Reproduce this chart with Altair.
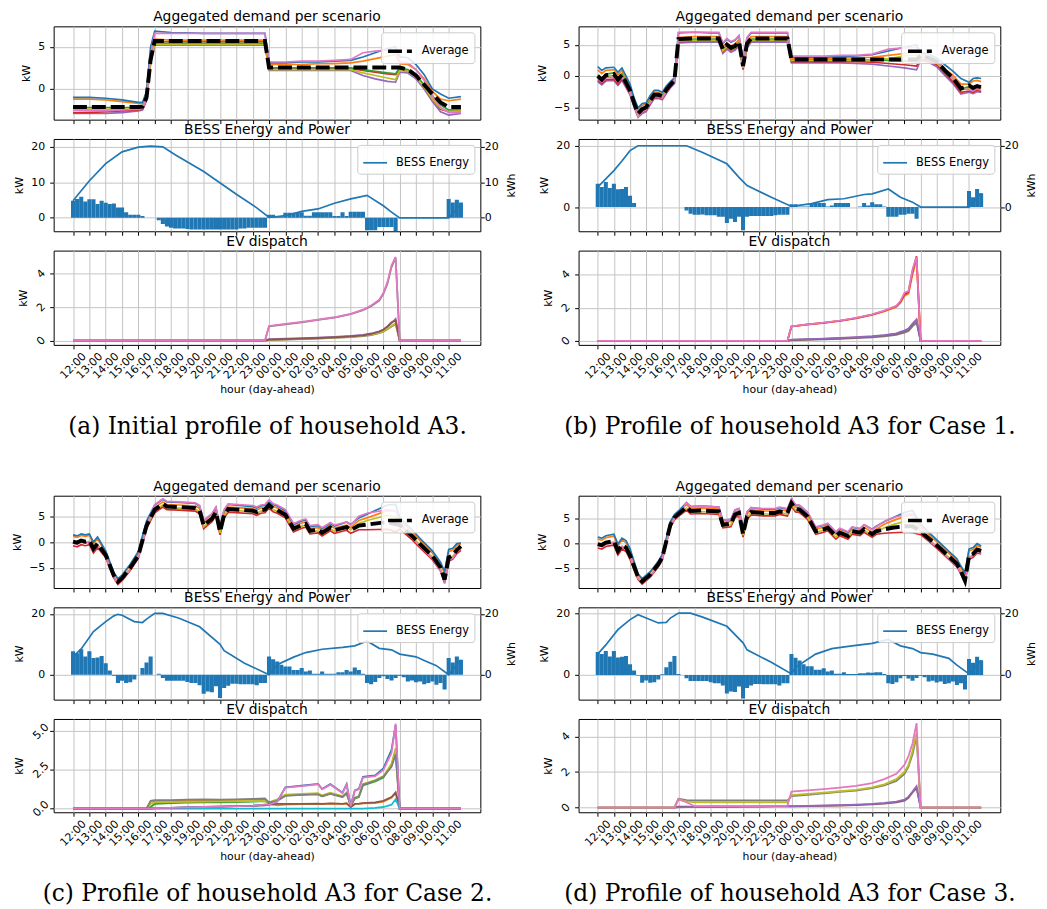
import json
import altair as alt
import pandas as pd

FONT = "DejaVu Sans"
BLUE = "#1f77b4"; ORANGE = "#ff7f0e"; GREEN = "#2ca02c"; RED = "#d62728"; PURPLE = "#9467bd"
BROWN = "#8c564b"; PINK = "#e377c2"; GRAY = "#7f7f7f"; OLIVE = "#bcbd22"; CYAN = "#17becf"

HOUR_LABELS = ["12:00", "13:00", "14:00", "15:00", "16:00", "17:00", "18:00", "19:00", "20:00", "21:00",
               "22:00", "23:00", "00:00", "01:00", "02:00", "03:00", "04:00", "05:00", "06:00", "07:00",
               "08:00", "09:00", "10:00", "11:00"]
HOUR_TICKS = [0, 4, 8, 12, 16, 20, 24, 28, 32, 36, 40, 44, 48, 52, 56, 60, 64, 68, 72, 76, 80, 84, 88, 92]
QUARTERS = list(range(96))

CAPTIONS = ["(a) Initial profile of household A3.", "(b) Profile of household A3 for Case 1.",
            "(c) Profile of household A3 for Case 2.", "(d) Profile of household A3 for Case 3."]

# ---------------- (a) aggregated demand ----------------
A_T = [0, 4, 8, 12, 16, 17, 18, 19, 20, 24, 28, 32, 36, 40, 44, 47, 48, 52, 56, 60, 64, 68, 71, 74, 77, 79, 80,
       82, 84, 86, 88, 90, 92, 95]
A_AVG = [-2.15, -2.15, -2.15, -2.15, -2.15, -2.1, -1.0, 3.5, 5.7, 5.7, 5.7, 5.7, 5.7, 5.7, 5.7, 5.7,
         2.55, 2.55, 2.55, 2.55, 2.55, 2.55, 2.55, 2.55, 2.55, 2.55, 2.55, 2.3, 1.6, 0.5, -0.6, -1.6, -2.15, -2.15]
A_PURPLE = [-2.9, -2.9, -2.9, -2.8, -2.6, -2.5, -1.4, 3.0, 5.2, 5.2, 5.2, 5.2, 5.2, 5.2, 5.2, 5.2,
            2.2, 2.2, 2.2, 2.2, 2.2, 2.2, 1.6, 1.2, 0.9, 0.8, 2.0, 1.9, 1.2, 0.0, -1.5, -2.7, -3.1, -2.9]
A_RED = [-2.8, -2.8, -2.7, -2.6, -2.5, -2.4, -1.3, 3.2, 5.4, 5.4, 5.4, 5.4, 5.4, 5.4, 5.4, 5.4,
         2.4, 2.4, 2.4, 2.4, 2.4, 2.4, 2.2, 2.0, 1.8, 1.7, 2.3, 2.1, 1.5, 0.3, -1.2, -2.4, -2.7, -2.6]
A_GREEN = [-2.2, -2.2, -2.2, -2.2, -2.2, -2.1, -1.0, 3.5, 5.6, 5.6, 5.6, 5.6, 5.6, 5.6, 5.6, 5.6,
           2.5, 2.5, 2.5, 2.5, 2.5, 2.5, 2.3, 2.1, 1.9, 1.8, 2.5, 2.3, 1.6, 0.5, -0.8, -1.9, -2.5, -2.4]
A_OLIVE = [-2.4, -2.4, -2.4, -2.4, -2.4, -2.3, -1.2, 3.3, 5.3, 5.3, 5.3, 5.3, 5.3, 5.3, 5.3, 5.3,
           2.3, 2.3, 2.3, 2.3, 2.3, 2.3, 1.9, 1.6, 1.3, 1.1, 2.2, 2.1, 1.4, 0.2, -1.2, -2.3, -2.7, -2.6]
A_ORANGE = [-1.2, -1.2, -1.3, -1.5, -1.7, -1.7, -0.6, 4.5, 5.9, 5.8, 5.8, 5.8, 5.8, 5.8, 5.8, 5.8,
            2.9, 2.9, 2.9, 3.0, 3.0, 3.1, 3.3, 3.6, 3.9, 4.1, 3.0, 2.9, 2.3, 1.2, -0.3, -1.2, -1.4, -1.2]
A_BLUE = [-1.0, -1.0, -1.1, -1.3, -1.6, -1.6, -0.3, 5.0, 6.85, 6.7, 6.65, 6.6, 6.6, 6.6, 6.6, 6.6,
          3.1, 3.1, 3.2, 3.2, 3.3, 3.4, 3.8, 4.3, 4.8, 5.0, 3.8, 3.7, 2.9, 1.7, 0.0, -0.6, -1.1, -0.9]
A_PINK = [-2.5, -2.6, -2.6, -2.5, -2.4, -2.3, -1.1, 4.0, 6.6, 6.6, 6.6, 6.6, 6.6, 6.6, 6.6, 6.6,
          3.2, 3.2, 3.3, 3.3, 3.4, 3.5, 4.3, 4.5, 4.6, 4.7, 3.2, 3.1, 2.3, 1.0, -0.8, -2.2, -2.8, -2.8]

# ---------------- (b) aggregated demand ----------------
B_T = [0, 1, 2, 4, 5, 6, 8, 9, 10, 11, 12, 13, 14, 15, 16, 17, 18, 19, 20, 24, 28, 30, 31, 32, 33, 34, 35, 36,
       37, 38, 42, 47, 48, 52, 56, 60, 64, 68, 72, 76, 79, 80, 82, 84, 86, 88, 90, 92, 93, 94, 95]
B_AVG = [0.0, -0.6, 0.1, 0.3, -0.6, 0.2, -2.3, -4.3, -6.0, -5.3, -5.0, -3.9, -3.0, -3.0, -3.2, -2.2, -1.4, -0.7,
         5.9, 6.0, 6.0, 6.0, 4.3, 5.0, 4.5, 4.8, 5.5, 1.6, 5.2, 6.0, 6.0, 6.0, 2.65, 2.65, 2.65, 2.65, 2.65,
         2.65, 2.65, 2.65, 2.65, 3.2, 2.9, 2.3, 0.9, -0.3, -2.0, -1.5, -1.9, -1.6, -1.8]
B_PURPLE = [-0.9, -1.4, -0.8, -0.7, -1.5, -0.7, -3.0, -5.0, -6.6, -6.0, -5.7, -4.6, -3.6, -3.6, -3.8, -2.8, -1.9,
            -1.2, 5.3, 5.4, 5.4, 5.4, 3.6, 4.3, 3.8, 4.1, 4.8, 1.0, 4.5, 5.4, 5.4, 5.4, 2.1, 2.1, 2.1, 2.1, 2.0,
            1.9, 1.6, 1.3, 1.0, 2.5, 2.2, 1.5, 0.1, -1.2, -2.9, -2.6, -2.8, -2.5, -2.6]
B_RED = [-0.7, -1.2, -0.6, -0.5, -1.3, -0.5, -2.8, -4.8, -6.4, -5.8, -5.5, -4.4, -3.4, -3.4, -3.6, -2.6, -1.7,
         -1.0, 5.5, 5.6, 5.6, 5.6, 3.9, 4.6, 4.1, 4.4, 5.1, 1.2, 4.8, 5.6, 5.6, 5.6, 2.3, 2.3, 2.3, 2.3, 2.3,
         2.2, 2.0, 1.8, 1.6, 2.7, 2.4, 1.8, 0.4, -0.9, -2.6, -2.4, -2.6, -2.2, -2.5]
B_GREEN = [0.2, -0.4, 0.3, 0.5, -0.4, 0.4, -2.2, -4.2, -5.9, -5.2, -4.9, -3.8, -2.9, -2.9, -3.1, -2.1, -1.3,
           -0.6, 5.8, 5.9, 5.9, 5.9, 4.2, 4.9, 4.4, 4.7, 5.4, 1.5, 5.1, 5.9, 5.9, 5.9, 2.6, 2.6, 2.6, 2.6, 2.6,
           2.6, 2.5, 2.4, 2.3, 3.1, 2.8, 2.2, 0.8, -0.4, -2.1, -1.7, -1.9, -1.6, -1.9]
B_OLIVE = [-0.2, -0.8, -0.1, 0.1, -0.8, 0.0, -2.5, -4.5, -6.2, -5.5, -5.2, -4.1, -3.2, -3.2, -3.4, -2.4, -1.6,
           -0.9, 5.6, 5.7, 5.7, 5.7, 4.0, 4.7, 4.2, 4.5, 5.2, 1.3, 4.9, 5.7, 5.7, 5.7, 2.5, 2.5, 2.5, 2.5, 2.5,
           2.6, 2.8, 3.2, 3.4, 3.0, 2.7, 2.1, 0.7, -0.5, -2.2, -2.0, -2.2, -1.9, -2.1]
B_ORANGE = [1.0, 0.4, 0.9, 1.0, 0.2, 0.9, -1.6, -3.8, -5.4, -4.7, -4.5, -3.4, -2.6, -2.6, -2.8, -1.9, -1.1, -0.5,
            6.2, 6.3, 6.3, 6.3, 4.6, 5.3, 4.8, 5.1, 5.8, 1.9, 5.5, 6.3, 6.3, 6.3, 2.8, 2.8, 2.8, 2.9, 2.9, 3.0,
            3.3, 3.6, 3.8, 3.4, 3.1, 2.5, 1.2, 0.1, -1.3, -1.3, -0.8, -0.7, -0.9]
B_BLUE = [1.5, 0.9, 1.3, 1.4, 0.6, 1.3, -1.3, -3.5, -5.1, -4.4, -4.3, -3.1, -2.3, -2.3, -2.6, -1.6, -0.9, -0.3,
          6.9, 7.0, 6.9, 6.9, 5.2, 5.9, 5.4, 5.7, 6.4, 2.5, 6.1, 6.9, 6.9, 6.9, 3.0, 3.0, 3.0, 3.1, 3.2, 3.4,
          4.0, 4.6, 5.0, 3.7, 3.5, 2.9, 1.8, 0.8, -0.4, -1.0, -0.4, -0.3, -0.4]
B_PINK = [-0.4, -1.0, -0.3, -0.2, -1.0, -0.2, -2.7, -4.7, -6.5, -5.7, -5.4, -4.3, -3.3, -3.3, -3.5, -2.5, -1.6,
          -0.9, 7.0, 7.0, 7.0, 7.0, 5.3, 6.0, 5.5, 5.8, 6.5, 2.6, 6.2, 7.0, 7.0, 7.0, 3.2, 3.2, 3.2, 3.3, 3.3,
          3.5, 4.3, 4.5, 4.6, 3.3, 3.0, 2.4, 1.0, -0.3, -2.0, -2.2, -2.4, -2.0, -2.3]

# ---------------- (c) aggregated demand ----------------
C_T = [0, 1, 2, 3, 4, 5, 6, 8, 10, 11, 12, 14, 16, 17, 18, 20, 22, 23, 26, 30, 31, 32, 33, 34, 35, 36, 37, 38,
       44, 45, 46, 47, 48, 49, 50, 52, 54, 56, 57, 58, 60, 61, 63, 64, 66, 67, 68, 70, 72, 77, 79, 80, 83, 85,
       88, 90, 91, 92, 93, 94, 95]
C_AVG = [0.1, -0.1, 0.3, 0.1, 0.3, -1.3, -0.3, -2.5, -6.5, -7.7, -7.0, -5.0, -2.6, 0.3, 3.2, 6.3, 7.4, 6.9, 6.8,
         6.6, 6.1, 3.2, 3.9, 4.5, 5.8, 2.0, 5.3, 6.4, 6.1, 5.8, 6.2, 6.3, 7.2, 6.5, 6.2, 5.3, 2.6, 3.3, 3.5, 2.2,
         2.4, 1.8, 2.8, 2.3, 2.7, 2.9, 2.3, 3.2, 3.4, 3.9, 3.5, 3.3, 1.2, -0.4, -2.7, -4.9, -7.3, -3.0, -2.6,
         -1.5, -0.8]
C_RED = [-0.7, -0.9, -0.5, -0.7, -0.5, -2.1, -1.1, -3.0, -7.0, -8.2, -7.5, -5.5, -3.1, -0.3, 2.6, 5.7, 6.8, 6.3,
         6.2, 6.0, 5.5, 2.6, 3.3, 3.9, 5.2, 1.4, 4.7, 5.8, 5.5, 5.2, 5.6, 5.7, 6.6, 5.9, 5.6, 4.7, 2.0, 2.7, 2.9,
         1.6, 1.8, 1.2, 2.2, 1.7, 2.1, 2.3, 1.7, 2.4, 2.4, 2.5, 2.0, 2.5, 0.5, -1.1, -3.4, -5.6, -8.0, -3.7, -3.3,
         -2.2, -1.6]
C_OLIVE = [-0.1, -0.3, 0.1, -0.1, 0.1, -1.5, -0.5, -2.7, -6.7, -7.9, -7.2, -5.2, -2.8, 0.1, 3.0, 6.1, 7.2, 6.7,
           6.6, 6.4, 5.9, 3.0, 3.7, 4.3, 5.6, 1.8, 5.1, 6.2, 5.9, 5.6, 6.0, 6.1, 7.0, 6.3, 6.0, 5.1, 2.4, 3.1,
           3.3, 2.0, 2.2, 1.6, 2.6, 2.1, 2.6, 2.9, 2.4, 3.6, 4.2, 5.2, 4.9, 3.3, 1.0, -0.6, -2.9, -5.1, -7.5,
           -3.2, -2.8, -1.7, -1.0]
C_ORANGE = [1.1, 0.9, 1.3, 1.1, 1.3, -0.3, 0.7, -2.1, -6.1, -7.3, -6.6, -4.6, -2.2, 0.8, 3.7, 6.7, 7.8, 7.3,
            7.2, 7.0, 6.5, 3.6, 4.3, 4.9, 6.2, 2.4, 5.7, 6.8, 6.5, 6.2, 6.6, 6.7, 7.6, 6.9, 6.6, 5.7, 3.0, 3.7,
            3.9, 2.6, 2.8, 2.2, 3.2, 2.7, 3.1, 3.3, 2.8, 4.2, 4.7, 6.1, 6.0, 4.3, 2.0, 0.3, -2.1, -4.3, -6.0,
            -1.8, -1.6, -0.6, -0.3]
C_BLUE = [1.4, 1.2, 1.6, 1.4, 1.6, 0.0, 1.0, -1.7, -5.9, -7.1, -6.4, -4.3, -1.8, 1.2, 4.1, 7.2, 8.3, 7.8, 7.7,
          7.5, 7.0, 4.1, 4.8, 5.4, 6.7, 2.9, 6.2, 7.3, 6.9, 6.6, 7.0, 7.1, 8.0, 7.3, 7.0, 6.1, 3.4, 4.1, 4.3,
          3.0, 3.2, 2.6, 3.6, 3.1, 3.6, 3.9, 3.4, 4.7, 5.4, 7.2, 7.3, 4.8, 2.4, 0.7, -1.7, -3.9, -5.7, -1.4,
          -1.2, -0.3, -0.2]
C_PINK = [-0.2, -0.4, 0.0, -0.2, 0.0, -1.6, -0.6, -2.8, -6.8, -8.0, -7.3, -5.3, -2.9, 0.0, 2.9, 7.3, 8.4, 7.9,
          7.8, 7.6, 7.1, 4.2, 4.9, 5.5, 6.8, 3.0, 6.3, 7.4, 7.1, 6.8, 7.2, 7.3, 8.2, 7.5, 7.2, 6.3, 3.6, 4.3,
          4.5, 3.2, 3.4, 2.8, 3.8, 3.3, 3.7, 3.9, 3.3, 5.0, 5.6, 6.3, 6.1, 3.8, 0.8, -0.8, -3.2, -5.5, -7.9,
          -3.5, -3.1, -1.9, -1.2]

# ---------------- (d) aggregated demand ----------------
D_T = [0, 1, 2, 4, 5, 6, 7, 8, 10, 11, 13, 15, 16, 17, 18, 19, 20, 22, 23, 26, 30, 31, 33, 34, 35, 36, 37, 38,
       41, 44, 45, 47, 48, 49, 50, 52, 54, 56, 57, 59, 60, 62, 63, 65, 66, 68, 69, 71, 73, 76, 78, 80, 82, 85,
       87, 89, 90, 91, 92, 93, 94, 95]
D_AVG = [-0.1, -0.3, 0.2, 0.5, -1.5, -0.3, -0.8, -2.4, -6.8, -7.7, -6.3, -4.2, -2.8, 0.5, 3.8, 5.3, 6.0, 7.4,
         6.6, 6.7, 6.5, 3.8, 4.0, 5.9, 6.2, 1.9, 5.5, 6.4, 6.2, 6.2, 6.5, 6.2, 8.2, 7.0, 6.9, 5.5, 2.5, 2.9, 3.2,
         1.5, 2.2, 1.5, 2.5, 2.2, 2.9, 1.9, 2.5, 2.9, 3.2, 3.5, 3.5, 2.5, 1.1, -1.1, -2.6, -4.1, -5.6, -7.5,
         -2.5, -2.1, -1.2, -1.5]
D_RED = [-0.9, -1.1, -0.6, -0.3, -2.3, -1.1, -1.6, -3.2, -7.3, -8.2, -6.8, -4.7, -3.3, 0.0, 3.3, 4.8, 5.5, 6.8,
         6.0, 6.1, 5.9, 3.2, 3.4, 5.3, 5.6, 1.3, 4.9, 5.8, 5.6, 5.6, 5.9, 5.6, 7.6, 6.4, 6.3, 4.9, 1.9, 2.3, 2.6,
         0.9, 1.6, 0.9, 1.9, 1.6, 2.3, 1.3, 1.9, 2.1, 2.2, 2.3, 2.2, 1.8, 0.5, -1.7, -3.2, -4.7, -6.2, -8.0,
         -3.2, -2.8, -1.9, -2.1]
D_OLIVE = [-0.3, -0.5, 0.0, 0.3, -1.7, -0.5, -1.0, -2.6, -7.0, -7.9, -6.5, -4.4, -3.0, 0.3, 3.6, 5.1, 5.8, 7.2,
           6.4, 6.5, 6.3, 3.6, 3.8, 5.7, 6.0, 1.7, 5.3, 6.2, 6.0, 6.0, 6.3, 6.0, 8.0, 6.8, 6.7, 5.3, 2.3, 2.7,
           3.0, 1.3, 2.0, 1.3, 2.3, 2.0, 2.7, 1.7, 2.3, 3.2, 3.8, 4.5, 4.7, 2.4, 0.9, -1.3, -2.8, -4.3, -5.8,
           -7.7, -2.7, -2.3, -1.4, -1.7]
D_ORANGE = [0.9, 0.7, 1.2, 1.5, -0.5, 0.7, 0.2, -1.4, -6.4, -7.3, -5.9, -3.8, -2.4, 0.9, 4.2, 5.7, 6.4, 7.9,
            7.1, 7.2, 7.0, 4.3, 4.5, 6.4, 6.7, 2.4, 6.0, 6.9, 6.6, 6.6, 6.9, 6.6, 8.6, 7.4, 7.3, 5.9, 2.9, 3.3,
            3.6, 1.9, 2.6, 1.9, 2.9, 2.6, 3.3, 2.3, 2.9, 3.9, 4.6, 5.5, 5.8, 3.5, 1.9, -0.4, -2.0, -3.5, -5.0,
            -6.3, -1.5, -1.2, -0.4, -0.8]
D_BLUE = [1.3, 1.1, 1.6, 1.9, -0.1, 1.1, 0.6, -1.0, -6.2, -7.1, -5.7, -3.6, -2.2, 1.1, 4.4, 5.9, 6.6, 8.3, 7.5,
          7.6, 7.4, 4.7, 4.9, 6.8, 7.1, 2.8, 6.4, 7.3, 7.0, 7.0, 7.3, 7.0, 9.0, 7.8, 7.7, 6.3, 3.3, 3.7, 4.0,
          2.3, 3.0, 2.3, 3.3, 3.0, 3.8, 2.9, 3.5, 4.4, 5.2, 6.3, 6.7, 4.0, 2.3, 0.0, -1.6, -3.1, -4.6, -5.9,
          -1.1, -0.8, 0.0, -0.5]
D_PINK = [-0.4, -0.6, -0.1, 0.2, -1.8, -0.6, -1.1, -2.7, -7.1, -8.0, -6.6, -4.5, -3.1, 0.2, 3.5, 5.0, 5.7, 8.3,
          7.5, 7.6, 7.4, 4.7, 4.9, 6.8, 7.1, 2.8, 6.4, 7.3, 7.1, 7.1, 7.4, 7.1, 9.1, 7.9, 7.8, 6.4, 3.4, 3.8,
          4.1, 2.4, 3.1, 2.4, 3.4, 3.1, 3.8, 2.8, 3.4, 4.5, 5.2, 5.9, 6.0, 2.8, 0.7, -1.5, -3.0, -4.5, -6.0,
          -7.9, -2.9, -2.5, -1.6, -1.9]

# ---------------- BESS power (kW, per quarter hour) ----------------
A_P = [4.8, 5.3, 5.9, 4.6, 5.2, 5.2, 3.9, 4.8, 4.2, 3.9, 4.0, 2.9,
       2.9, 1.6, 0.9, 0.9, 0.9, 0.5, 0, 0, 0, -0.7, -1.7, -2.4,
       -2.8, -3.0, -3.0, -3.0, -3.1, -3.3, -3.3, -3.3, -3.3, -3.3, -3.3, -3.3,
       -3.3, -3.3, -3.3, -3.3, -3.3, -3.0, -3.0, -2.8, -2.8, -2.8, -2.8, -2.8,
       0.9, 0.9, 0.4, 0.4, 1.4, 1.4, 1.4, 1.6, 1.6, 0.6, 0.6, 1.6,
       1.6, 1.6, 1.6, 1.6, 0.5, 0.5, 1.6, 0.5, 1.7, 1.7, 1.7, 1.7,
       -3.5, -3.5, -3.5, -2.6, -2.6, -2.6, -2.6, -3.8, 0, 0, 0, 0,
       0, 0, 0, 0, 0, 0, 0, 0, 5.3, 4.3, 5.1, 4.3]
B_P = [7.6, 6.5, 8.2, 6.2, 7.6, 5.8, 5.9, 6.5, 3.7, 1.3, 0, 0,
       0, 0, 0, 0, 0, 0, 0, 0, 0, 0, -1.1, -2.2,
       -2.5, -2.5, -2.4, -2.7, -2.7, -2.7, -3.2, -3.2, -5.2, -3.8, -4.9, -3.2,
       -7.6, -3.2, -2.9, -2.9, -2.9, -2.9, -2.9, -2.9, -2.7, -2.5, -2.5, -2.5,
       0.9, 0.9, 0.2, 0.2, 0.2, 1.3, 1.3, 1.3, 1.3, 0.2, 0.5, 1.3,
       1.3, 1.3, 1.3, 0, 0, 0.2, 1.3, 0.5, 1.6, 0.9, 0.9, 0.2,
       -3.2, -3.2, -3.2, -2.5, -2.5, -2.2, -2.2, -3.8, 0, 0, 0, 0,
       0, 0, 0, 0, 0, 0, 0, 0, 5.2, 3.2, 5.9, 4.5]
C_P = [7.7, 7.1, 8.4, 6.0, 7.7, 5.5, 5.7, 6.2, 3.8, 1.4, -0.3, -2.7,
       -2.0, -2.7, -2.5, -1.6, 0.0, 2.2, 4.0, 6.0, 0, 0.3, -1.1, -2.0,
       -2.0, -2.0, -2.0, -2.0, -2.4, -2.7, -2.7, -3.5, -6.3, -5.5, -5.8, -3.8,
       -7.7, -4.4, -3.6, -3.0, -3.0, -3.1, -3.1, -3.1, -3.1, -3.5, -2.7, -2.7,
       6.0, 5.1, 4.4, 3.3, 2.7, 2.7, 1.6, 1.6, 2.2, 1.1, 1.4, 0.3,
       0.3, 1.1, 0.3, 0.3, 0.3, 0.8, 0.8, 1.6, 1.1, 2.4, 1.6, 0.3,
       -2.7, -3.1, -2.4, -1.1, -0.5, -1.4, -1.9, -1.1, -0.3, -0.8, -2.2, -1.9,
       -2.5, -2.2, -3.1, -2.7, -2.2, -3.3, -2.7, -4.9, 5.5, 4.0, 6.0, 4.9]
D_P = [7.5, 6.8, 7.8, 6.0, 7.8, 5.7, 5.9, 6.2, 3.5, 1.4, -0.2, -2.6,
       -1.8, -2.6, -2.4, -1.5, 0.2, 2.5, 4.3, 6.2, 0.3, 0, -1.1, -2.0,
       -2.0, -2.0, -2.0, -2.0, -2.4, -2.7, -2.7, -3.5, -6.1, -5.4, -5.6, -3.8,
       -7.7, -4.3, -3.5, -3.0, -3.0, -3.1, -3.1, -3.1, -3.1, -3.5, -2.7, -2.7,
       6.8, 5.6, 4.7, 3.5, 2.8, 2.8, 1.7, 1.7, 2.2, 1.1, 1.4, 0.4,
       0.4, 0.9, 0.3, 0.3, 0.3, 0.5, 0.5, 0.8, 0.7, 0.9, 0.9, 0.3,
       -2.7, -3.0, -2.4, -1.1, -0.4, -1.2, -1.9, -1.0, -0.3, -0.8, -2.2, -1.9,
       -2.5, -2.2, -3.0, -2.7, -2.2, -3.3, -2.7, -4.8, 5.2, 4.0, 5.9, 4.8]

# ---------------- BESS energy (kWh) ----------------
A_ET = [0, 4, 8, 12, 16, 19, 22, 25, 32, 40, 45, 48, 52, 56, 60, 64, 68, 72, 76, 78, 80, 92, 95]
A_E = [4.8, 10.4, 15.2, 18.5, 19.8, 20.1, 19.9, 17.7, 13.0, 6.6, 2.8, 0.1, 0.6, 1.8, 2.5, 4.1, 5.3, 6.3, 3.4,
       1.6, 0.0, 0.0, 3.7]
B_ET = [0, 4, 6, 8, 10, 22, 26, 32, 35, 37, 43, 48, 53, 57, 61, 66, 68, 72, 75, 78, 80, 92, 95]
B_E = [6.5, 11.9, 15.0, 18.4, 20.0, 20.0, 17.8, 14.1, 9.7, 7.0, 3.2, 0.2, 1.1, 2.4, 2.7, 4.1, 4.3, 5.9, 3.2,
       1.6, 0.0, 0.0, 4.5]
C_ET = [0, 2, 5, 8, 10, 11, 12, 15, 17, 18, 20, 22, 26, 31, 36, 37, 42, 48, 50, 54, 57, 61, 66, 69, 72, 75,
        78, 80, 84, 86, 89, 92, 95]
C_E = [6.0, 8.5, 14.2, 17.5, 19.4, 19.9, 19.6, 17.5, 17.2, 18.3, 20.2, 20.2, 18.6, 15.8, 10.0, 7.9, 3.8, 0.0,
       3.3, 5.8, 7.3, 8.4, 9.0, 9.5, 11.1, 8.7, 8.2, 6.8, 5.9, 4.7, 3.0, 0.0, 4.8]
D_ET = [0, 2, 5, 8, 10, 12, 15, 17, 18, 20, 23, 26, 32, 36, 37, 43, 48, 49, 54, 58, 63, 68, 72, 75, 78, 80,
        83, 87, 89, 92, 95]
D_E = [6.8, 9.8, 14.8, 18.1, 19.7, 18.6, 17.0, 17.2, 18.6, 20.2, 20.2, 18.9, 15.9, 10.5, 8.2, 4.1, 0.3, 2.5,
       6.8, 8.6, 9.5, 10.3, 11.6, 9.5, 8.6, 7.3, 6.8, 5.4, 3.2, 0.3, 4.8]

# ---------------- EV dispatch (kW) ----------------
A_EVT = [0, 47, 48, 52, 56, 60, 64, 68, 71, 73, 75, 76, 77, 78, 79, 80, 95]
A_EV_GRAYLO = [0, 0, 0.04, 0.07, 0.1, 0.13, 0.17, 0.22, 0.28, 0.34, 0.45, 0.54, 0.68, 0.85, 1.0, 0, 0]
A_EV_OLIVE = [0, 0, 0.05, 0.08, 0.11, 0.14, 0.18, 0.23, 0.3, 0.36, 0.47, 0.56, 0.7, 0.88, 1.05, 0, 0]
A_EV_PURPLE = [0, 0, 0.09, 0.12, 0.15, 0.18, 0.22, 0.28, 0.35, 0.43, 0.56, 0.67, 0.83, 1.05, 1.3, 0, 0]
A_EV_BROWN = [0, 0, 0.07, 0.1, 0.13, 0.16, 0.2, 0.26, 0.32, 0.4, 0.55, 0.65, 0.85, 1.1, 1.2, 0, 0]
A_EV_GRAYHI = [0, 0, 0.86, 0.98, 1.1, 1.24, 1.38, 1.58, 1.82, 2.06, 2.4, 2.8, 3.4, 4.4, 4.95, 0, 0]
A_EV_PINK = [0, 0, 0.88, 1.0, 1.12, 1.26, 1.4, 1.6, 1.85, 2.1, 2.45, 2.85, 3.5, 4.5, 5.0, 0, 0]

B_EVT = [0, 47, 48, 52, 56, 60, 64, 68, 71, 74, 75, 76, 77, 78, 79, 80, 95]
B_EV_GRAY = [0, 0, 0.04, 0.07, 0.1, 0.13, 0.17, 0.22, 0.28, 0.36, 0.43, 0.5, 0.6, 0.88, 1.1, 0, 0]
B_EV_BROWN = [0, 0, 0.06, 0.09, 0.12, 0.16, 0.2, 0.26, 0.33, 0.42, 0.5, 0.58, 0.7, 1.0, 1.25, 0, 0]
B_EV_PURPLE = [0, 0, 0.08, 0.11, 0.14, 0.18, 0.22, 0.28, 0.35, 0.45, 0.54, 0.62, 0.75, 1.05, 1.3, 0, 0]
B_EV_ORANGE = [0, 0, 0.86, 0.98, 1.08, 1.2, 1.36, 1.57, 1.78, 2.05, 2.3, 2.7, 2.85, 4.0, 4.9, 0, 0]
B_EV_RED = [0, 0, 0.87, 0.99, 1.09, 1.21, 1.37, 1.58, 1.8, 2.1, 2.35, 2.8, 2.95, 4.2, 5.1, 0, 0]
B_EV_PINK = [0, 0, 0.88, 1.0, 1.1, 1.22, 1.38, 1.6, 1.82, 2.12, 2.4, 2.9, 3.0, 4.3, 5.05, 0, 0]

C_EVT = [0, 18, 19, 20, 24, 28, 32, 36, 40, 44, 47, 48, 50, 52, 56, 60, 61, 63, 66, 67, 68, 69, 70, 71,
         74, 76, 78, 79, 80, 95]
C_EV_ORANGE = [0, 0, 0.45, 0.48, 0.5, 0.52, 0.55, 0.55, 0.56, 0.58, 0.6, 0.3, 0.2, 0.25,
               0.28, 0.3, 0.28, 0.32, 0.3, 0.32, 0.1, 0.3, 0.3, 0.33, 0.36, 0.45, 0.7, 1.0, 0, 0]
C_EV_GREEN = [0, 0, 0.1, 0.3, 0.35, 0.38, 0.4, 0.4, 0.42, 0.45, 0.48, 0.35, 0.55, 0.85,
              0.9, 0.95, 0.8, 0.98, 0.75, 1.0, 0.15, 0.65, 0.75, 1.5, 1.75, 2.0, 2.8, 3.7, 0, 0]
C_EV_OLIVE = [0, 0, 0.3, 0.4, 0.42, 0.44, 0.45, 0.46, 0.47, 0.48, 0.5, 0.4, 0.6, 0.9,
              0.95, 1.0, 0.85, 1.02, 0.8, 1.05, 0.2, 0.7, 0.8, 1.6, 1.85, 2.1, 2.9, 3.9, 0, 0]
C_EV_GRAY = [0, 0, 0.5, 0.55, 0.55, 0.58, 0.6, 0.58, 0.6, 0.62, 0.65, 0.4, 0.5, 0.82,
             0.88, 0.92, 0.8, 0.95, 0.75, 0.98, 0.2, 0.68, 0.78, 1.55, 1.8, 2.05, 2.7, 3.5, 0, 0]
C_EV_BROWN = [0, 0, 0, 0.02, 0.05, 0.08, 0.1, 0.12, 0.15, 0.18, 0.2, 0.25, 0.3, 0.3,
              0.3, 0.32, 0.3, 0.33, 0.3, 0.35, 0.1, 0.3, 0.32, 0.35, 0.4, 0.5, 0.75, 1.05, 0, 0]
C_EV_CYAN = [0, 0, 0, 0, 0, 0, 0, 0, 0, 0, 0, 0, 0, 0,
             0, 0, 0, 0, 0, 0, 0, 0, 0, 0, 0.05, 0.1, 0.25, 0.6, 0, 0]
C_EV_BLUE = [0, 0, 0, 0.03, 0.05, 0.08, 0.1, 0.12, 0.15, 0.18, 0.25, 0.25, 0.45, 1.38,
             1.48, 1.6, 1.27, 1.58, 1.03, 1.58, 0.15, 1.18, 1.28, 2.05, 2.15, 2.6, 3.8, 5.4, 0, 0]
C_EV_PINK = [0, 0, 0, 0.03, 0.05, 0.08, 0.1, 0.12, 0.15, 0.18, 0.25, 0.25, 0.45, 1.35,
             1.45, 1.57, 1.24, 1.55, 1.0, 1.55, 0.15, 1.15, 1.25, 2.0, 2.1, 2.5, 3.6, 5.5, 0, 0]

D_EVT = [0, 19, 20, 22, 24, 28, 32, 36, 40, 44, 47, 48, 52, 56, 60, 64, 68, 71, 74, 76, 77, 78, 79, 80, 95]
D_EV_BROWN = [0, 0, 0.05, 0.05, 0.05, 0.05, 0.05, 0.06, 0.06, 0.07, 0.07, 0.07, 0.08, 0.1, 0.12, 0.14, 0.18,
              0.22, 0.3, 0.39, 0.55, 0.85, 1.1, 0, 0]
D_EV_PURPLE = [0, 0, 0.02, 0.03, 0.04, 0.05, 0.05, 0.06, 0.07, 0.08, 0.09, 0.09, 0.1, 0.12, 0.14, 0.17, 0.21,
               0.26, 0.34, 0.45, 0.62, 0.9, 1.2, 0, 0]
D_EV_GRAY = [0, 0, 0.5, 0.42, 0.4, 0.4, 0.4, 0.4, 0.4, 0.4, 0.4, 0.65, 0.72, 0.8, 0.88, 0.96, 1.1, 1.25, 1.5,
             1.9, 2.3, 3.0, 4.0, 0, 0]
D_EV_OLIVE = [0, 0, 0.45, 0.35, 0.3, 0.3, 0.3, 0.3, 0.3, 0.3, 0.3, 0.7, 0.77, 0.84, 0.92, 1.0, 1.14, 1.31,
              1.6, 2.0, 2.4, 3.2, 4.2, 0, 0]
D_EV_PINK = [0, 0, 0.48, 0.3, 0.08, 0.08, 0.08, 0.09, 0.09, 0.1, 0.1, 0.9, 0.97, 1.04, 1.12, 1.22, 1.38, 1.6,
             1.9, 2.4, 2.9, 3.6, 4.75, 0, 0]

# ---------------- chart helpers ----------------
XSCALE = alt.Scale(domain=[-4.75, 99.75], nice=False, zero=False)
LEG = dict(orient="top-right", offset=6, padding=5, fillColor="rgba(255,255,255,0.85)",
           strokeColor="#cccccc", cornerRadius=3, title=None, labelFont=FONT, labelFontSize=11.5,
           labelColor="black", symbolType="stroke", symbolSize=576, labelOffset=8)
PAD = {"left": 3, "top": -2, "right": 2, "bottom": 0}


def xaxis(labels):
    if labels:
        return alt.Axis(values=HOUR_TICKS, labelExpr=json.dumps(HOUR_LABELS) + "[round(datum.value/4)]",
                        labelAngle=315, labelAlign="center", labelBaseline="middle", labelPadding=17,
                        labelOverlap=False, labelFlush=False, title="hour (day-ahead)", titlePadding=3)
    return alt.Axis(values=HOUR_TICKS, labels=False, title=None)


def lines_df(T, lines):
    rows = []
    for k, (col, vals) in enumerate(lines):
        for t, v in zip(T, vals):
            rows.append({"t": t, "v": v, "sid": "s%02d" % k, "col": col})
    return pd.DataFrame(rows)


def demand_chart(T, avg, lines, ydom, yticks, w, h):
    ys = alt.Scale(domain=ydom, nice=False, zero=False)
    x = alt.X("t:Q", scale=XSCALE, axis=xaxis(False))
    scen = alt.Chart(lines_df(T, lines)).mark_line(strokeWidth=1.7, clip=True).encode(
        x=x, y=alt.Y("v:Q", scale=ys, axis=alt.Axis(values=yticks, title="kW")),
        color=alt.Color("col:N", scale=None), detail="sid:N")
    adf = pd.DataFrame({"t": T, "v": avg, "name": ["Average"] * len(T)})
    avg_line = alt.Chart(adf).mark_line(color="black", strokeWidth=4, clip=True).encode(
        x=x, y=alt.Y("v:Q", scale=ys),
        strokeDash=alt.StrokeDash("name:N", scale=alt.Scale(domain=["Average"], range=[[14, 5]]),
                                  legend=alt.Legend(symbolStrokeWidth=3.5, symbolStrokeColor="black", **LEG)))
    return alt.layer(scen, avg_line).properties(width=w, height=h, title="Aggegated demand per scenario")


def bess_chart(power, ET, E, ydom, yticks, w, h):
    bdf = pd.DataFrame({"t": QUARTERS, "p": power})
    bdf["t0"] = bdf["t"] - 0.5
    bdf["t1"] = bdf["t"] + 0.5
    bdf["base"] = 0.0
    ys = alt.Scale(domain=ydom, nice=False, zero=False)
    bars = alt.Chart(bdf).mark_bar(color=BLUE, clip=True).encode(
        x=alt.X("t0:Q", scale=XSCALE, axis=xaxis(False)), x2=alt.X2("t1"),
        y=alt.Y("p:Q", scale=ys, axis=alt.Axis(values=yticks, title="kW")), y2=alt.Y2("base"))
    edf = pd.DataFrame({"t": ET, "e": E, "name": ["BESS Energy"] * len(ET)})
    ys2 = alt.Scale(domain=ydom, nice=False, zero=False)
    eline = alt.Chart(edf).mark_line(strokeWidth=1.7, clip=True).encode(
        x=alt.X("t:Q", scale=XSCALE, axis=xaxis(False)),
        y=alt.Y("e:Q", scale=ys2, axis=alt.Axis(values=yticks, title="kWh", orient="right", grid=False,
                                                 titleAngle=270, titleBaseline="top", labelPadding=0,
                                                 titlePadding=7)),
        color=alt.Color("name:N", scale=alt.Scale(domain=["BESS Energy"], range=[BLUE]),
                        legend=alt.Legend(symbolStrokeWidth=1.7, **LEG)))
    return alt.layer(bars, eline).resolve_scale(y="independent").properties(
        width=w, height=h, title="BESS Energy and Power")


def ev_chart(T, lines, ydom, yticks, fmt, w, h, caption):
    ys = alt.Scale(domain=ydom, nice=False, zero=False)
    df = lines_df(T, lines)
    main = alt.Chart(df).mark_line(strokeWidth=1.8, clip=True).encode(
        x=alt.X("t:Q", scale=XSCALE, axis=xaxis(True)),
        y=alt.Y("v:Q", scale=ys, axis=alt.Axis(values=yticks, format=fmt, title="kW", labelAngle=315,
                                                labelAlign="center", labelBaseline="middle", labelPadding=9)),
        color=alt.Color("col:N", scale=None), detail="sid:N")
    # invisible layer whose bottom axis carries the sub-figure caption
    cap = alt.Chart(df).mark_line(opacity=0, clip=True).encode(
        x=alt.X("t:Q", scale=alt.Scale(domain=[-4.75, 99.75], nice=False, zero=False),
                axis=alt.Axis(orient="bottom", offset=70, domain=False, ticks=False, labels=False, grid=False,
                              title=caption, titleFont="DejaVu Serif", titleFontSize=23.5,
                              titleFontWeight="normal", titleColor="black", titlePadding=0)),
        y=alt.Y("v:Q", scale=ys), detail="sid:N")
    return alt.layer(main, cap).resolve_scale(x="independent").resolve_axis(x="independent").properties(
        width=w, height=h, title="EV dispatch")


def subfig(dem, bess, ev, spacing):
    return alt.vconcat(dem, bess, ev, spacing=spacing, bounds="flush").resolve_scale(
        color="independent", strokeDash="independent").resolve_legend(
        color="independent", strokeDash="independent")


WL, WR = 430, 425

fig_a = subfig(
    demand_chart(A_T, A_AVG, [(PURPLE, A_PURPLE), (RED, A_RED), (GREEN, A_GREEN), (OLIVE, A_OLIVE),
                              (ORANGE, A_ORANGE), (BLUE, A_BLUE), (PINK, A_PINK)],
                 [-3.64, 7.43], [0, 5], WL, 94),
    bess_chart(A_P, A_ET, A_E, [-3.76, 22.1], [0, 10, 20], WL, 93),
    ev_chart(A_EVT, [(GRAY, A_EV_GRAYLO), (OLIVE, A_EV_OLIVE), (PURPLE, A_EV_PURPLE), (BROWN, A_EV_BROWN),
                     (GRAY, A_EV_GRAYHI), (PINK, A_EV_PINK)], [-0.25, 5.38], [0, 2, 4], "d", WL, 95, CAPTIONS[0]),
    19.5)

fig_b = subfig(
    demand_chart(B_T, B_AVG, [(PURPLE, B_PURPLE), (RED, B_RED), (GREEN, B_GREEN), (OLIVE, B_OLIVE),
                              (ORANGE, B_ORANGE), (BLUE, B_BLUE), (PINK, B_PINK)],
                 [-6.97, 7.94], [-5, 0, 5], WR, 94),
    bess_chart(B_P, B_ET, B_E, [-7.9, 22.2], [0, 20], WR, 93),
    ev_chart(B_EVT, [(GRAY, B_EV_GRAY), (BROWN, B_EV_BROWN), (PURPLE, B_EV_PURPLE), (ORANGE, B_EV_ORANGE),
                     (RED, B_EV_RED), (PINK, B_EV_PINK)], [-0.24, 5.44], [0, 2, 4], "d", WR, 95, CAPTIONS[1]),
    19.5)

fig_c = subfig(
    demand_chart(C_T, C_AVG, [(RED, C_RED), (OLIVE, C_OLIVE), (ORANGE, C_ORANGE), (BLUE, C_BLUE),
                              (PINK, C_PINK)], [-8.9, 9.0], [-5, 0, 5], WL, 93),
    bess_chart(C_P, C_ET, C_E, [-8.2, 22.2], [0, 20], WL, 93),
    ev_chart(C_EVT, [(ORANGE, C_EV_ORANGE), (GREEN, C_EV_GREEN), (OLIVE, C_EV_OLIVE), (GRAY, C_EV_GRAY),
                     (BROWN, C_EV_BROWN), (CYAN, C_EV_CYAN), (BLUE, C_EV_BLUE), (PINK, C_EV_PINK)],
             [-0.24, 5.8], [0, 2.5, 5], ".1f", WL, 94, CAPTIONS[2]),
    19.5)

fig_d = subfig(
    demand_chart(D_T, D_AVG, [(RED, D_RED), (OLIVE, D_OLIVE), (ORANGE, D_ORANGE), (BLUE, D_BLUE),
                              (PINK, D_PINK)], [-9.0, 9.7], [-5, 0, 5], WR, 93),
    bess_chart(D_P, D_ET, D_E, [-8.1, 22.1], [0, 20], WR, 93),
    ev_chart(D_EVT, [(BROWN, D_EV_BROWN), (PURPLE, D_EV_PURPLE), (GRAY, D_EV_GRAY), (OLIVE, D_EV_OLIVE),
                     (PINK, D_EV_PINK)], [-0.26, 4.98], [0, 2, 4], "d", WR, 94, CAPTIONS[3]),
    19.5)

RES = dict(color="independent", strokeDash="independent")
row1 = alt.hconcat(fig_a, fig_b, spacing=19).resolve_scale(**RES).resolve_legend(**RES)
row2 = alt.hconcat(fig_c, fig_d, spacing=19).resolve_scale(**RES).resolve_legend(**RES)

chart = alt.vconcat(row1, row2, spacing=41).resolve_scale(**RES).resolve_legend(**RES).properties(
    padding=PAD
).configure(font=FONT, padding=PAD).configure_view(stroke="black", strokeWidth=1).configure_axis(
    labelFont=FONT, titleFont=FONT, labelFontSize=11, titleFontSize=11, titleFontWeight="normal",
    labelColor="black", titleColor="black", tickColor="black", tickSize=4, domain=False,
    gridColor="#c4c4c4", gridWidth=1, labelPadding=5, titlePadding=6
).configure_title(font=FONT, fontSize=14, fontWeight="normal", color="black", offset=2, anchor="middle")

chart.save("out.html", embed_options={"renderer": "svg", "actions": False})
